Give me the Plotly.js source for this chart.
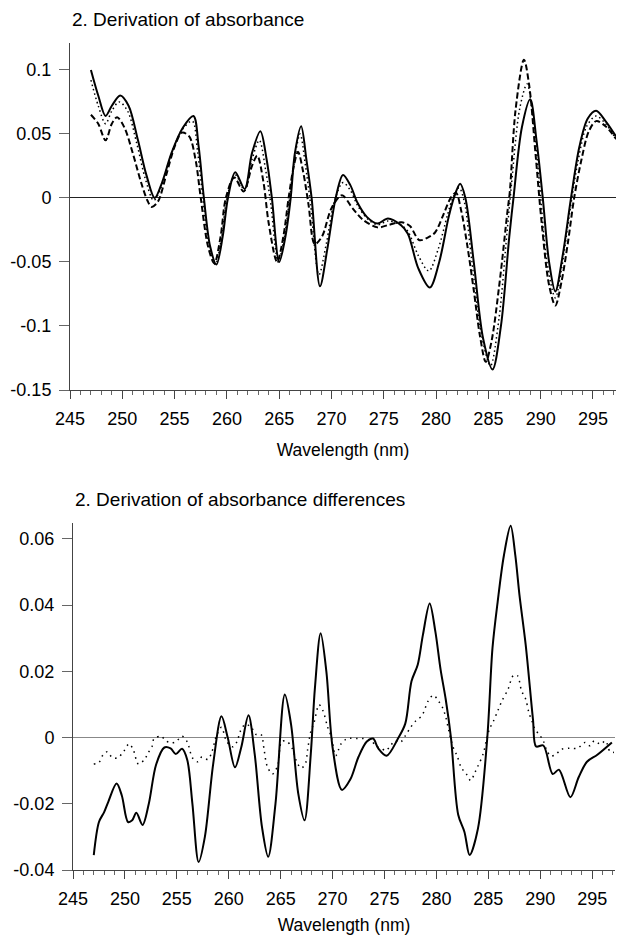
<!DOCTYPE html>
<html>
<head>
<meta charset="utf-8">
<script src="https://cdn.plot.ly/plotly-3.0.1.min.js"></script>
<style>html,body{margin:0;padding:0;background:#fff;}#chart{width:617px;height:935px;}</style>
</head>
<body>
<div id="chart"></div>
<script>
// ---- Top chart: 2. Derivation of absorbance ----
const topSolidX = [247.0,247.7,248.4,249.0,249.8,250.6,251.5,252.3,253.1,253.8,254.7,255.8,256.8,257.3,257.8,258.4,259.0,259.6,260.1,260.8,261.7,262.4,263.2,263.8,264.3,265.0,265.6,266.1,266.5,267.1,267.6,268.1,268.9,269.6,270.4,271.1,271.8,272.5,273.4,274.4,275.4,276.6,277.3,278.3,279.4,280.3,281.2,281.7,282.3,282.8,283.6,284.5,285.4,286.2,287.0,287.4,288.2,289.0,289.6,290.2,290.8,291.4,292.1,292.9,293.7,294.5,295.3,296.2,297.2];
const topSolidY = [0.100,0.080,0.064,0.072,0.080,0.072,0.045,0.018,0.000,0.012,0.035,0.055,0.064,0.040,0.000,-0.038,-0.052,-0.030,0.000,0.020,0.007,0.035,0.052,0.030,0.000,-0.050,-0.030,0.000,0.035,0.056,0.030,0.000,-0.069,-0.040,0.000,0.018,0.010,-0.004,-0.015,-0.020,-0.016,-0.021,-0.028,-0.055,-0.070,-0.050,-0.015,0.000,0.011,0.000,-0.050,-0.110,-0.134,-0.100,-0.030,0.000,0.055,0.077,0.045,0.000,-0.050,-0.073,-0.045,0.000,0.040,0.062,0.068,0.060,0.048];

const topDashX = [247.0,247.7,248.4,249.0,249.5,250.2,251.0,251.8,252.4,252.8,253.4,254.2,255.0,255.7,256.4,257.0,257.5,258.2,258.8,259.4,259.9,260.7,261.6,262.4,262.9,263.5,264.0,264.8,265.4,265.9,266.4,266.8,267.3,267.8,268.4,269.1,270.0,271.0,272.0,273.0,274.4,275.5,276.7,277.5,278.4,279.2,279.9,280.7,281.4,281.9,282.4,283.0,283.6,284.2,284.75,285.3,286.1,286.8,287.05,287.6,288.4,288.9,289.5,290.1,290.8,291.4,292.0,292.6,293.2,293.9,294.6,295.3,296.2,297.2];
const topDashY = [0.065,0.058,0.045,0.058,0.063,0.055,0.035,0.012,-0.002,-0.007,-0.003,0.018,0.040,0.051,0.048,0.030,0.000,-0.038,-0.051,-0.030,0.000,0.016,0.005,0.025,0.033,0.012,-0.020,-0.050,-0.030,0.000,0.025,0.036,0.020,-0.005,-0.036,-0.030,-0.008,0.002,-0.008,-0.017,-0.023,-0.021,-0.019,-0.022,-0.033,-0.031,-0.027,-0.013,0.000,0.004,-0.010,-0.038,-0.072,-0.108,-0.128,-0.112,-0.064,-0.012,0.005,0.069,0.108,0.088,0.035,-0.020,-0.068,-0.084,-0.065,-0.035,0.000,0.030,0.052,0.060,0.056,0.046];

const topDotX = [247.0,247.7,248.4,249.0,249.7,250.5,251.4,252.2,253.0,253.7,254.6,255.7,256.7,257.2,257.7,258.3,258.9,259.5,260.0,260.8,261.7,262.4,263.1,263.7,264.2,264.9,265.5,266.0,266.5,267.0,267.5,268.0,268.8,269.5,270.3,271.1,271.8,272.5,273.4,274.4,275.4,276.6,277.3,278.3,279.3,280.2,281.1,281.6,282.2,282.7,283.4,284.3,285.2,286.0,286.8,287.2,288.0,288.7,289.3,289.9,290.6,291.4,292.0,292.8,293.6,294.4,295.3,296.2,297.2];
const topDotY = [0.092,0.072,0.058,0.068,0.075,0.068,0.042,0.015,-0.002,0.008,0.032,0.053,0.060,0.036,0.000,-0.038,-0.052,-0.030,0.000,0.018,0.006,0.030,0.045,0.022,-0.005,-0.050,-0.030,0.000,0.032,0.050,0.026,-0.005,-0.060,-0.036,-0.002,0.012,0.006,-0.006,-0.016,-0.021,-0.018,-0.021,-0.026,-0.045,-0.057,-0.040,-0.013,0.000,0.008,-0.003,-0.048,-0.105,-0.131,-0.095,-0.025,0.010,0.070,0.089,0.060,0.010,-0.050,-0.078,-0.055,-0.010,0.030,0.056,0.064,0.058,0.046];

// ---- Bottom chart: 2. Derivation of absorbance differences ----
const botSolidX = [247.0,247.5,248.0,248.4,249.2,249.7,250.3,250.7,251.1,251.7,252.3,253.0,253.8,254.4,254.9,255.5,256.0,256.5,257.1,257.7,258.5,259.3,259.9,260.6,261.2,261.9,262.5,263.2,263.8,264.5,265.4,266.0,266.7,267.3,267.9,268.3,268.85,269.4,270.0,270.9,271.7,272.5,273.3,273.9,274.4,275.2,276.3,277.0,277.6,278.2,278.7,279.35,279.9,280.4,280.9,281.4,282.1,282.7,283.2,284.0,284.9,285.4,285.9,286.5,287.15,287.6,288.0,288.6,289.3,289.6,290.3,291.2,291.8,292.9,293.7,294.5,295.5,296.9];
const botSolidY = [-0.0355,-0.0255,-0.0225,-0.0194,-0.0139,-0.0175,-0.0255,-0.0250,-0.0227,-0.0264,-0.0200,-0.0082,-0.0030,-0.0033,-0.0050,-0.0034,-0.0067,-0.0200,-0.0376,-0.0300,-0.0080,0.0064,0.0000,-0.0090,-0.0030,0.0067,-0.0050,-0.0270,-0.0360,-0.0200,0.0130,0.0040,-0.0170,-0.0250,-0.0050,0.0150,0.0315,0.0200,-0.0030,-0.0158,-0.0127,-0.0058,-0.0012,-0.0003,-0.0033,-0.0055,-0.0003,0.0042,0.0170,0.0220,0.0310,0.0405,0.0320,0.0206,0.0115,0.0000,-0.0233,-0.0285,-0.0355,-0.0275,0.0000,0.0270,0.0410,0.0550,0.0640,0.0550,0.0430,0.0280,0.0055,-0.0027,-0.0024,-0.0110,-0.0097,-0.0180,-0.0120,-0.0073,-0.0052,-0.0015];

const botDotX = [247.0,247.5,247.9,248.3,248.8,249.3,249.9,250.4,250.8,251.3,251.9,252.2,252.6,252.8,253.5,253.9,254.4,254.9,255.5,256.0,256.5,257.0,257.4,258.0,258.4,258.8,259.3,259.8,260.4,260.8,261.1,261.6,262.2,262.6,263.1,263.4,263.7,264.2,264.7,265.1,265.6,266.1,266.6,267.0,267.4,267.6,267.9,268.2,268.7,269.1,269.5,269.9,270.3,270.8,271.3,271.7,272.4,273.0,273.7,274.3,274.7,275.1,275.5,276.0,276.5,277.0,277.5,278.0,278.6,279.2,279.7,280.2,280.6,280.9,281.2,281.6,282.0,282.4,282.9,283.3,283.7,284.0,284.5,284.8,285.1,285.5,285.9,286.3,286.9,287.4,287.8,288.2,288.6,288.9,289.2,289.5,290.0,290.3,290.6,291.0,291.5,292.0,292.8,293.6,294.3,294.8,295.2,295.8,296.3,296.7,297.1];
const botDotY = [-0.0080,-0.0075,-0.0052,-0.0043,-0.0061,-0.0061,-0.0041,-0.0019,-0.0036,-0.0080,-0.0066,-0.0048,-0.0028,-0.0004,0.0004,-0.0009,-0.0016,-0.0013,0.0004,-0.0013,-0.0061,-0.0073,-0.0059,-0.0066,-0.0041,0.0004,0.0031,-0.0012,-0.0028,-0.0012,0.0018,0.0040,0.0030,0.0010,0.0010,-0.0036,-0.0086,-0.0110,-0.0086,-0.0012,-0.0012,-0.0032,-0.0077,-0.0092,-0.0077,-0.0036,0.0018,0.0043,0.0099,0.0079,0.0034,0.0000,-0.0055,-0.0020,-0.0005,-0.0002,-0.0003,-0.0003,-0.0010,-0.0028,-0.0032,-0.0040,-0.0028,-0.0010,-0.0015,0.0005,0.0030,0.0050,0.0066,0.0110,0.0128,0.0110,0.0090,0.0062,0.0020,-0.0028,-0.0056,-0.0091,-0.0111,-0.0130,-0.0106,-0.0086,-0.0050,-0.0010,0.0025,0.0050,0.0080,0.0110,0.0146,0.0187,0.0187,0.0141,0.0116,0.0076,0.0050,0.0025,0.0005,-0.0010,-0.0036,-0.0056,-0.0051,-0.0036,-0.0032,-0.0032,-0.0015,-0.0025,-0.0010,-0.0020,-0.0010,-0.0041,-0.0045];

const xTickVals = [245,250,255,260,265,270,275,280,285,290,295];
const xTickText = ["245","250","255","260","265","270","275","280","285","290","295"];
const topYTickVals = [0.1,0.05,0,-0.05,-0.1,-0.15];
const topYTickText = ["0.1","0.05","0","-0.05","-0.1","-0.15"];
const botYTickVals = [0.06,0.04,0.02,0,-0.02,-0.04];
const botYTickText = ["0.06","0.04","0.02","0","-0.02","-0.04"];

const FONT = "Liberation Sans, Arial, Helvetica, sans-serif";
const W = 617, H = 935;

const traces = [
  {x: topSolidX, y: topSolidY, xaxis:'x', yaxis:'y', mode:'lines', line:{color:'#000', width:2, shape:'spline', smoothing:0.9}, name:'solid'},
  {x: topDotX, y: topDotY, xaxis:'x', yaxis:'y', mode:'lines', line:{color:'#000', width:1.5, dash:'1.5px,3px', shape:'spline', smoothing:0.9}, name:'dotted'},
  {x: topDashX, y: topDashY, xaxis:'x', yaxis:'y', mode:'lines', line:{color:'#000', width:2, dash:'6px,3px', shape:'spline', smoothing:0.9}, name:'dashed'},
  {x: botSolidX, y: botSolidY, xaxis:'x2', yaxis:'y2', mode:'lines', line:{color:'#000', width:2, shape:'spline', smoothing:0.9}, name:'solid'},
  {x: botDotX, y: botDotY, xaxis:'x2', yaxis:'y2', mode:'lines', line:{color:'#000', width:1.5, dash:'1.5px,4.5px', shape:'spline', smoothing:0.9}, name:'dotted'}
];

function xAxis(domain, anchor, standoff) {
  return {
    domain: domain, anchor: anchor, range: [245, 297.2],
    showgrid: false, zeroline: false, showline: true, linecolor: '#444', linewidth: 1,
    ticks: 'outside', ticklen: 8, tickcolor: '#444', tickwidth: 1,
    ticklabelstandoff: 4,
    tickvals: xTickVals, ticktext: xTickText,
    tickfont: {family: FONT, size: 18, color: '#000'},
    minor: {tickvals: Array.from({length: 53}, (_, i) => 245 + i), ticks: 'outside', ticklen: 4, tickcolor: '#666', tickwidth: 1, showgrid: false},
    title: {text: 'Wavelength (nm)', font: {family: FONT, size: 17.5, color: '#000'}, standoff: standoff}
  };
}
function yAxis(domain, anchor, range, vals, text, zc) {
  return {
    domain: domain, anchor: anchor, range: range,
    showgrid: false, showline: true, linecolor: '#444', linewidth: 1,
    zeroline: true, zerolinecolor: zc, zerolinewidth: 1,
    ticks: 'outside', ticklen: 10, tickcolor: '#666', tickwidth: 1,
    ticklabelstandoff: 4,
    tickvals: vals, ticktext: text,
    tickfont: {family: FONT, size: 18, color: '#000'}
  };
}

const layout = {
  width: W, height: H, autosize: false,
  margin: {l: 0, r: 0, t: 0, b: 0, pad: 0},
  paper_bgcolor: '#fff', plot_bgcolor: '#fff',
  showlegend: false,
  font: {family: FONT, color: '#000'},
  xaxis: xAxis([70/W, 616/W], 'y', 16),
  yaxis: yAxis([1-390/H, 1-43/H], 'x', [-0.15, 0.121], topYTickVals, topYTickText, '#222'),
  xaxis2: xAxis([73/W, 615/W], 'y2', 16),
  yaxis2: yAxis([1-870/H, 1-523/H], 'x2', [-0.04, 0.0648], botYTickVals, botYTickText, '#888'),
  annotations: [
    {text: '2. Derivation of absorbance', xref: 'paper', yref: 'paper', x: 70/W, y: 1-20/H, xanchor: 'left', yanchor: 'middle', showarrow: false, font: {family: FONT, size: 19, color: '#000'}},
    {text: '2. Derivation of absorbance differences', xref: 'paper', yref: 'paper', x: 73/W, y: 1-499/H, xanchor: 'left', yanchor: 'middle', showarrow: false, font: {family: FONT, size: 19, color: '#000'}}
  ]
};

Plotly.newPlot('chart', traces, layout, {displayModeBar: false, staticPlot: true});
</script>
</body>
</html>
